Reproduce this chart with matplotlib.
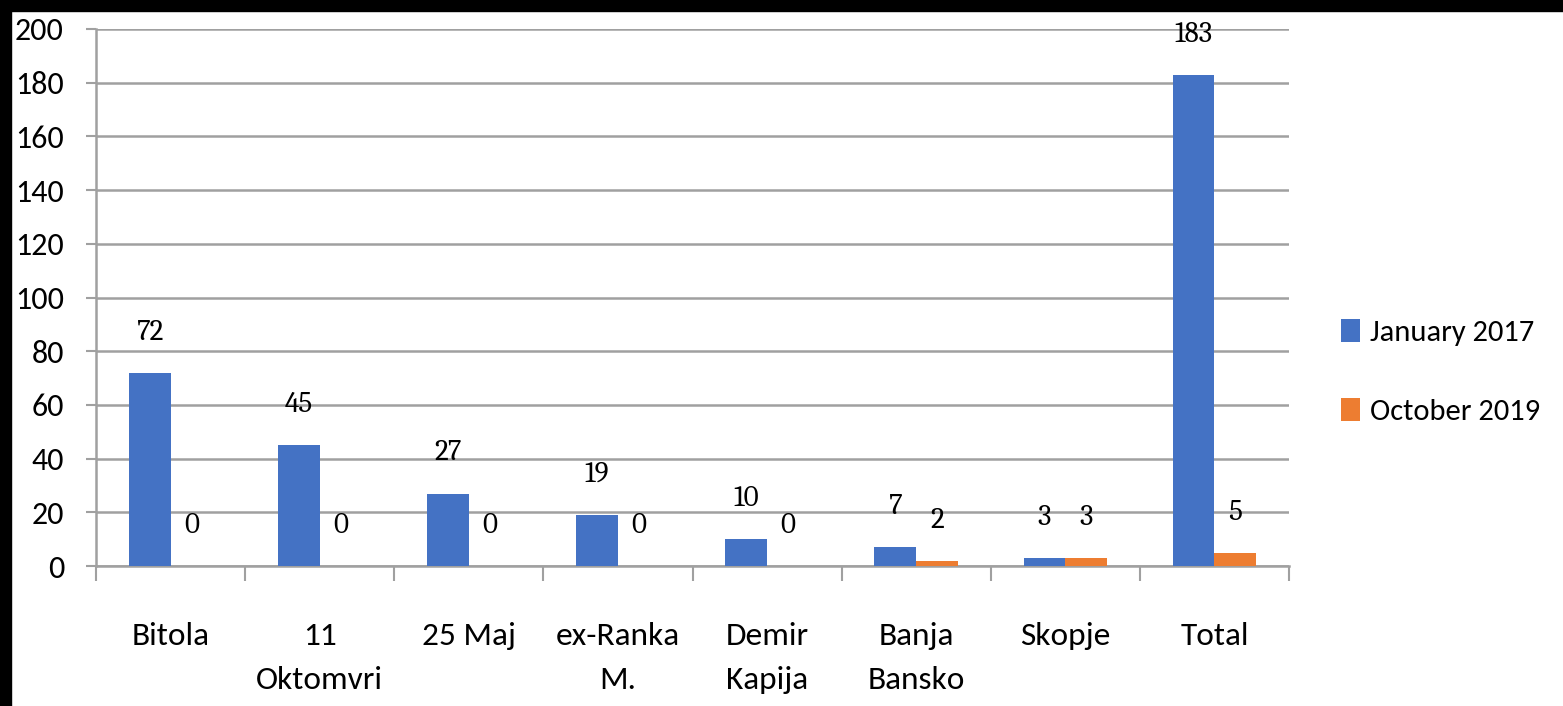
import matplotlib
matplotlib.use("Agg")
import matplotlib.pyplot as plt
import numpy as np
from matplotlib.patches import Rectangle

categories = ["Bitola", "11\nOktomvri", "25 Maj", "ex-Ranka\nM.", "Demir\nKapija",
              "Banja\nBansko", "Skopje", "Total"]
jan2017 = [72, 45, 27, 19, 10, 7, 3, 183]
oct2019 = [0, 0, 0, 0, 0, 2, 3, 5]
series_names = ["January 2017", "October 2019"]
yticks = [0, 20, 40, 60, 80, 100, 120, 140, 160, 180, 200]

plt.rcParams['font.family'] = ['Carlito', 'DejaVu Sans']
label_font = ['Caladea', 'DejaVu Serif']

W, H = 1563, 706
fig = plt.figure(figsize=(W / 100, H / 100), dpi=100)
fig.patch.set_facecolor("white")
ax = fig.add_axes([96 / W, 1 - 566 / H, (1289 - 96) / W, (566 - 29) / H])

x = np.arange(len(categories))
bw = 0.28
blue = "#4472C4"
orange = "#ED7D31"
grid_c = "#A0A0A0"

b1 = ax.bar(x - bw / 2, jan2017, bw, color=blue, label=series_names[0], zorder=3)
b2 = ax.bar(x + bw / 2, oct2019, bw, color=orange, label=series_names[1], zorder=3)

for bars, vals in ((b1, jan2017), (b2, oct2019)):
    for r, v in zip(bars, vals):
        ax.annotate(str(v), (r.get_x() + r.get_width() / 2, v), xytext=(0, 29),
                    textcoords="offset points", ha="center", va="center",
                    fontsize=21, color="black", family=label_font, zorder=4,
                    annotation_clip=False)

ax.set_xlim(-0.5, len(categories) - 0.5)
ax.set_ylim(0, 200)
ax.set_yticks(yticks)
ax.tick_params(axis="y", length=7, width=1.5, color=grid_c, labelsize=23, pad=16)
ax.yaxis.grid(True, color=grid_c, linewidth=1.8, zorder=0)

ax.set_xticks(np.arange(len(categories) + 1) - 0.5)
ax.set_xticklabels([])
ax.tick_params(axis="x", which="major", length=11, width=1.5, color=grid_c)
ax.set_xticks(x, minor=True)
ax.set_xticklabels(categories, minor=True, fontsize=24, linespacing=1.72)
ax.tick_params(axis="x", which="minor", length=0, pad=40)

for s in ("top", "right"):
    ax.spines[s].set_visible(False)
for s in ("left", "bottom"):
    ax.spines[s].set_color(grid_c)
    ax.spines[s].set_linewidth(1.8)

leg = fig.legend(handles=[b1, b2], labels=series_names, loc="center left",
                 bbox_to_anchor=(1313 / W, 1 - 372 / H), frameon=False,
                 fontsize=22, handlelength=0.65, handleheight=0.8,
                 handletextpad=0.3, labelspacing=1.7)

fig.add_artist(Rectangle((0, 1 - 11 / H), 1, 11 / H, transform=fig.transFigure,
                         color="black", zorder=10))
fig.add_artist(Rectangle((0, 0), 11 / W, 1, transform=fig.transFigure,
                         color="black", zorder=10))

fig.savefig("out.png", dpi=100, facecolor="white")
